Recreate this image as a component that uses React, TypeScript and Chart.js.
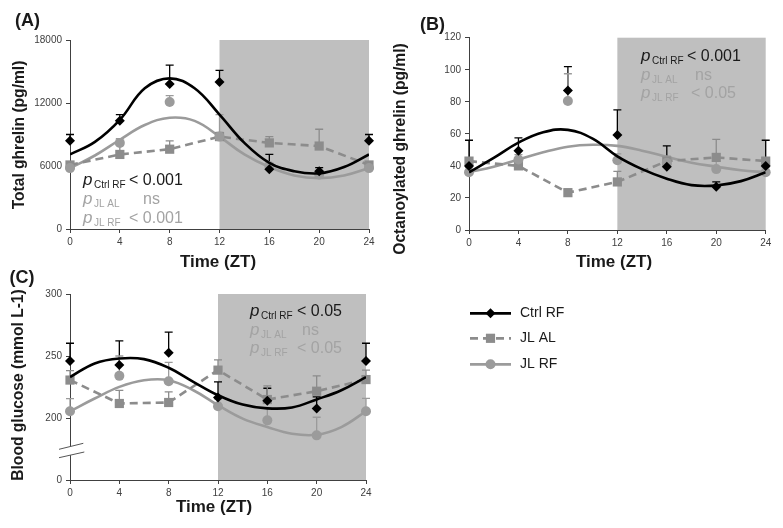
import React, { useEffect, useRef } from 'react';
import { Chart, registerables } from 'chart.js';

Chart.register(...registerables);

const FONT = '"Liberation Sans", Arial, Helvetica, sans-serif';
const BLACK = '#000000';
const GRAY_AL = '#8c8c8c';
const GRAY_RF = '#9b9b9b';
const P_GRAY = '#a3a3a3';
const SHADE = '#bfbfbf';
const AXIS = '#404040';
const TEXT = '#1a1a1a';

// Sampling times (ZT) of the measured points and of the read-off fitted curves
const ZT = [0, 4, 8, 12, 16, 20, 24];
const FIT_ZT = [0, 2, 4, 6, 8, 10, 12, 14, 16, 18, 20, 22, 24];
const DARK_START = 12;
const DARK_END = 24;
const SERIES_NAMES = ['Ctrl RF', 'JL AL', 'JL RF'];

// Panel A: total ghrelin (pg/ml)
const ctrlRfA = [8400, 10300, 13800, 14000, 5700, 5500, 8400];
const ctrlRfErrA = [600, 600, 1800, 1100, 1400, 350, 600];
const jlAlA = [6100, 7100, 7600, 8800, 8200, 7900, 6100];
const jlAlErrA = [300, 900, 800, 400, 600, 1600, 300];
const jlRfA = [5800, 8200, 12100, 8800, 6000, 5200, 5800];
const jlRfErrA = [300, 400, 600, 2100, 300, 300, 300];
const ctrlRfFitA = [7100, 8300, 10400, 13400, 14350, 13400, 10900, 8200, 6300, 5500, 5300, 5900, 7100];
const jlRfFitA = [5800, 7000, 8500, 9900, 10600, 10300, 8800, 7100, 5900, 5100, 4850, 5100, 5800];
const pTextsA = ['< 0.001', 'ns', '< 0.001'];

// Panel B: octanoylated ghrelin (pg/ml)
const ctrlRfB = [40, 49.5, 87, 59.3, 39.5, 27, 40];
const ctrlRfErrB = [16, 8, 15, 15.6, 13, 3, 16];
const jlAlB = [43, 40, 23.3, 30, 43, 45.3, 43];
const jlAlErrB = [2, 3, 2, 6.6, 3, 11.3, 2];
const jlRfB = [36, 44, 80.5, 43.5, 42, 38, 36];
const jlRfErrB = [3, 3, 17, 4, 4, 5, 3];
const ctrlRfFitB = [36, 45, 54.5, 61, 62.5, 57, 46, 38, 32, 28, 27.8, 30.5, 36];
const jlRfFitB = [36, 39.5, 44, 48.5, 52, 53.2, 52.5, 49.5, 45.7, 42, 39.5, 37.3, 36];
const pTextsB = ['< 0.001', 'ns', '< 0.05'];

// Panel C: blood glucose (mmol L-1), broken axis (bottom tick shows 0)
const ctrlRfC = [246, 242.7, 252.7, 216.5, 214, 207.6, 246];
const ctrlRfErrC = [14.3, 19.5, 16.5, 12.7, 10, 9.4, 14.3];
const jlAlC = [230.6, 211.7, 212.5, 238.6, 214.9, 221.6, 231];
const jlAlErrC = [7.6, 10.5, 8.5, 8.2, 11, 12.4, 7.6];
const jlRfC = [205.4, 234, 229.7, 209.5, 198.1, 186, 205.5];
const jlRfErrC = [10.3, 16, 15.2, 6, 10, 14.6, 10.3];
const ctrlRfFitC = [233, 244, 248, 247.5, 240.5, 229.2, 218.4, 210.8, 207.8, 208.5, 215, 222.4, 233];
const jlRfFitC = [205.4, 215.7, 225.1, 230.5, 230.5, 222.4, 210.3, 199.5, 192.7, 187.3, 186.5, 192.7, 205.4];
const pTextsC = ['< 0.05', 'ns', '< 0.05'];

type Panel = {
  left: number; top: number; width: number; height: number;
  padding: { top: number; right: number; bottom: number; left: number };
  yWidth: number; xHeight: number;
  yMin: number; yMax: number; yStep: number; yBrokenLabel?: string;
  ctrl: number[]; ctrlErr: number[]; jlAl: number[]; jlAlErr: number[]; jlRf: number[]; jlRfErr: number[];
  ctrlFit: number[]; jlRfFit: number[];
  label: string; labelPos: [number, number];
  yTitle: string; yTitlePos: [number, number];
  xTitle: string; xTitlePos: [number, number];
  pTexts: string[]; pX: number; pRows: number[]; pOffsets: number[];
  breakMarks?: boolean; legend?: boolean;
};

const PANELS: Panel[] = [
  {
    left: 0, top: 0, width: 390, height: 278,
    padding: { top: 40, right: 21, bottom: 0, left: 0 }, yWidth: 70, xHeight: 49,
    yMin: 0, yMax: 18000, yStep: 6000,
    ctrl: ctrlRfA, ctrlErr: ctrlRfErrA, jlAl: jlAlA, jlAlErr: jlAlErrA, jlRf: jlRfA, jlRfErr: jlRfErrA,
    ctrlFit: ctrlRfFitA, jlRfFit: jlRfFitA,
    label: '(A)', labelPos: [27.5, 21.5],
    yTitle: 'Total ghrelin (pg/ml)', yTitlePos: [20, 135],
    xTitle: 'Time (ZT)', xTitlePos: [218, 262],
    pTexts: pTextsA, pX: 83, pRows: [179, 198, 217], pOffsets: [46, 60, 46],
  },
  {
    left: 390, top: 0, width: 393, height: 278,
    padding: { top: 37.7, right: 17.3, bottom: 0, left: 0 }, yWidth: 79, xHeight: 48,
    yMin: 0, yMax: 120, yStep: 20,
    ctrl: ctrlRfB, ctrlErr: ctrlRfErrB, jlAl: jlAlB, jlAlErr: jlAlErrB, jlRf: jlRfB, jlRfErr: jlRfErrB,
    ctrlFit: ctrlRfFitB, jlRfFit: jlRfFitB,
    label: '(B)', labelPos: [42.5, 25],
    yTitle: 'Octanoylated ghrelin (pg/ml)', yTitlePos: [10.5, 149],
    xTitle: 'Time (ZT)', xTitlePos: [224, 262],
    pTexts: pTextsB, pX: 251, pRows: [55, 74, 92], pOffsets: [46, 54, 50],
  },
  {
    left: 0, top: 270, width: 783, height: 258,
    padding: { top: 24, right: 417, bottom: 0, left: 0 }, yWidth: 70, xHeight: 48,
    yMin: 150, yMax: 300, yStep: 50, yBrokenLabel: '0',
    ctrl: ctrlRfC, ctrlErr: ctrlRfErrC, jlAl: jlAlC, jlAlErr: jlAlErrC, jlRf: jlRfC, jlRfErr: jlRfErrC,
    ctrlFit: ctrlRfFitC, jlRfFit: jlRfFitC,
    label: '(C)', labelPos: [22, 8],
    yTitle: 'Blood glucose (mmol L-1)', yTitlePos: [19, 115],
    xTitle: 'Time (ZT)', xTitlePos: [214, 237.7],
    pTexts: pTextsC, pX: 250, pRows: [40, 59, 77], pOffsets: [47, 52, 47],
    breakMarks: true, legend: true,
  },
];

function drawMarker(ctx: CanvasRenderingContext2D, style: string, x: number, y: number, color: string) {
  ctx.save();
  ctx.fillStyle = color;
  ctx.beginPath();
  if (style === 'diamond') {
    ctx.moveTo(x, y - 5); ctx.lineTo(x + 5, y); ctx.lineTo(x, y + 5); ctx.lineTo(x - 5, y);
    ctx.closePath();
  } else if (style === 'square') {
    ctx.rect(x - 4.6, y - 4.6, 9.2, 9.2);
  } else {
    ctx.arc(x, y, 5, 0, Math.PI * 2);
  }
  ctx.fill();
  ctx.restore();
}

function makePlugin(p: Panel) {
  return {
    id: 'panelDecor',
    beforeDraw(chart: any) {
      const { ctx, chartArea, scales } = chart;
      const x0 = scales.x.getPixelForValue(DARK_START);
      const x1 = scales.x.getPixelForValue(DARK_END);
      ctx.save();
      ctx.fillStyle = SHADE;
      ctx.fillRect(x0, chartArea.top, x1 - x0, chartArea.bottom - chartArea.top);
      ctx.restore();
    },
    beforeDatasetsDraw(chart: any) {
      const { ctx, scales } = chart;
      ctx.save();
      ctx.lineWidth = 1.3;
      chart.data.datasets.forEach((ds: any) => {
        if (!ds.errors) return;
        ctx.strokeStyle = ds.errColor;
        ds.data.forEach((pt: any, i: number) => {
          const px = scales.x.getPixelForValue(pt.x);
          const py = scales.y.getPixelForValue(pt.y);
          const pe = scales.y.getPixelForValue(pt.y + ds.errors[i]);
          ctx.beginPath();
          ctx.moveTo(px, py); ctx.lineTo(px, pe);
          ctx.moveTo(px - 4, pe); ctx.lineTo(px + 4, pe);
          ctx.stroke();
        });
      });
      ctx.restore();
    },
    afterDraw(chart: any) {
      const { ctx } = chart;
      ctx.save();
      // panel label
      ctx.fillStyle = TEXT;
      ctx.textAlign = 'center';
      ctx.textBaseline = 'middle';
      ctx.font = `bold 18px ${FONT}`;
      ctx.fillText(p.label, p.labelPos[0], p.labelPos[1]);
      // axis titles
      ctx.font = `bold 17px ${FONT}`;
      ctx.fillText(p.xTitle, p.xTitlePos[0], p.xTitlePos[1]);
      ctx.save();
      ctx.translate(p.yTitlePos[0], p.yTitlePos[1]);
      ctx.rotate(-Math.PI / 2);
      ctx.font = `bold 15.6px ${FONT}`;
      ctx.fillText(p.yTitle, 0, 0);
      ctx.restore();
      // p-value annotations
      ctx.textAlign = 'left';
      ctx.textBaseline = 'alphabetic';
      p.pTexts.forEach((t, i) => {
        const base = p.pRows[i] + 5.7;
        ctx.fillStyle = i === 0 ? TEXT : P_GRAY;
        ctx.font = `italic 17px ${FONT}`;
        ctx.fillText('p', p.pX, base);
        ctx.font = `10px ${FONT}`;
        ctx.fillText(SERIES_NAMES[i], p.pX + 11, base + 3);
        ctx.font = `16px ${FONT}`;
        ctx.fillText(t, p.pX + p.pOffsets[i], base);
      });
      // axis break marks
      if (p.breakMarks) {
        ctx.fillStyle = '#ffffff';
        ctx.beginPath();
        ctx.moveTo(59, 179.3); ctx.lineTo(84, 173.3); ctx.lineTo(84, 182); ctx.lineTo(59, 187.7);
        ctx.closePath();
        ctx.fill();
        ctx.strokeStyle = '#555555';
        ctx.lineWidth = 1;
        ctx.beginPath();
        ctx.moveTo(59, 179.3); ctx.lineTo(83.3, 173.3);
        ctx.moveTo(59, 187.7); ctx.lineTo(84.3, 182);
        ctx.stroke();
      }
      // legend
      if (p.legend) {
        const rows = [
          { name: SERIES_NAMES[0], color: BLACK, dash: [] as number[], marker: 'diamond', y: 43.3 },
          { name: SERIES_NAMES[1], color: GRAY_AL, dash: [8, 5], marker: 'square', y: 68.3 },
          { name: SERIES_NAMES[2], color: GRAY_RF, dash: [] as number[], marker: 'circle', y: 94.3 },
        ];
        rows.forEach((r) => {
          ctx.save();
          ctx.strokeStyle = r.color;
          ctx.lineWidth = 2.8;
          ctx.setLineDash(r.dash);
          ctx.beginPath();
          ctx.moveTo(470, r.y); ctx.lineTo(511, r.y);
          ctx.stroke();
          ctx.restore();
          drawMarker(ctx, r.marker, 490.5, r.y, r.color);
          ctx.fillStyle = TEXT;
          ctx.font = `14px ${FONT}`;
          ctx.textBaseline = 'middle';
          ctx.fillText(r.name, 520, r.y);
        });
      }
      ctx.restore();
    },
  };
}

function pts(xs: number[], ys: number[]) {
  return xs.map((x, i) => ({ x, y: ys[i] }));
}

function buildConfig(p: Panel): any {
  const tickFont = { size: 10, family: FONT };
  return {
    type: 'line',
    data: {
      datasets: [
        {
          label: SERIES_NAMES[0], data: pts(ZT, p.ctrl), showLine: false,
          pointStyle: 'rectRot', pointRadius: 5, pointBorderWidth: 0,
          backgroundColor: BLACK, borderColor: BLACK, order: 0, clip: false,
          errors: p.ctrlErr, errColor: BLACK,
        },
        {
          label: SERIES_NAMES[0] + ' fit', data: pts(FIT_ZT, p.ctrlFit),
          borderColor: BLACK, borderWidth: 2.6, pointRadius: 0, tension: 0.4, fill: false, order: 1,
        },
        {
          label: SERIES_NAMES[2], data: pts(ZT, p.jlRf), showLine: false,
          pointStyle: 'circle', pointRadius: 5, pointBorderWidth: 0,
          backgroundColor: GRAY_RF, borderColor: GRAY_RF, order: 2, clip: false,
          errors: p.jlRfErr, errColor: GRAY_RF,
        },
        {
          label: SERIES_NAMES[1], data: pts(ZT, p.jlAl),
          borderColor: GRAY_AL, borderWidth: 2.6, borderDash: [8, 5], tension: 0,
          pointStyle: 'rect', pointRadius: 6.5, pointBorderWidth: 0,
          backgroundColor: GRAY_AL, pointBackgroundColor: GRAY_AL, order: 3, clip: false,
          errors: p.jlAlErr, errColor: GRAY_AL,
        },
        {
          label: SERIES_NAMES[2] + ' fit', data: pts(FIT_ZT, p.jlRfFit),
          borderColor: GRAY_RF, borderWidth: 2.6, pointRadius: 0, tension: 0.4, fill: false, order: 4,
        },
      ],
    },
    options: {
      responsive: false,
      maintainAspectRatio: false,
      animation: false,
      layout: { padding: p.padding },
      plugins: { legend: { display: false }, tooltip: { enabled: false }, title: { display: false } },
      scales: {
        x: {
          type: 'linear', min: 0, max: 24,
          afterFit: (s: any) => { s.height = p.xHeight; },
          ticks: { stepSize: 4, color: AXIS, font: tickFont, padding: 3, maxRotation: 0, autoSkip: false },
          grid: { display: true, drawOnChartArea: false, drawTicks: true, tickLength: 4, color: AXIS, lineWidth: 1 },
          border: { display: true, color: AXIS, width: 1 },
        },
        y: {
          type: 'linear', min: p.yMin, max: p.yMax,
          afterFit: (s: any) => { s.width = p.yWidth; },
          ticks: {
            stepSize: p.yStep, color: AXIS, font: tickFont, padding: 4,
            callback: (v: number) => (p.yBrokenLabel && v === p.yMin ? p.yBrokenLabel : String(v)),
          },
          grid: { display: true, drawOnChartArea: false, drawTicks: true, tickLength: 4, color: AXIS, lineWidth: 1 },
          border: { display: true, color: AXIS, width: 1 },
        },
      },
    },
    plugins: [makePlugin(p)],
  };
}

export default function App() {
  const refs = useRef<(HTMLCanvasElement | null)[]>([]);
  useEffect(() => {
    const charts = PANELS.map((p, i) => new Chart(refs.current[i] as HTMLCanvasElement, buildConfig(p)));
    return () => charts.forEach((c) => c.destroy());
  }, []);
  return (
    <div style={{ position: 'absolute', left: 0, top: 0, width: 783, height: 528, background: '#ffffff', overflow: 'hidden' }}>
      {PANELS.map((p, i) => (
        <canvas
          key={i}
          ref={(el) => { refs.current[i] = el; }}
          width={p.width}
          height={p.height}
          style={{ position: 'absolute', left: p.left, top: p.top, width: p.width, height: p.height }}
        />
      ))}
    </div>
  );
}
